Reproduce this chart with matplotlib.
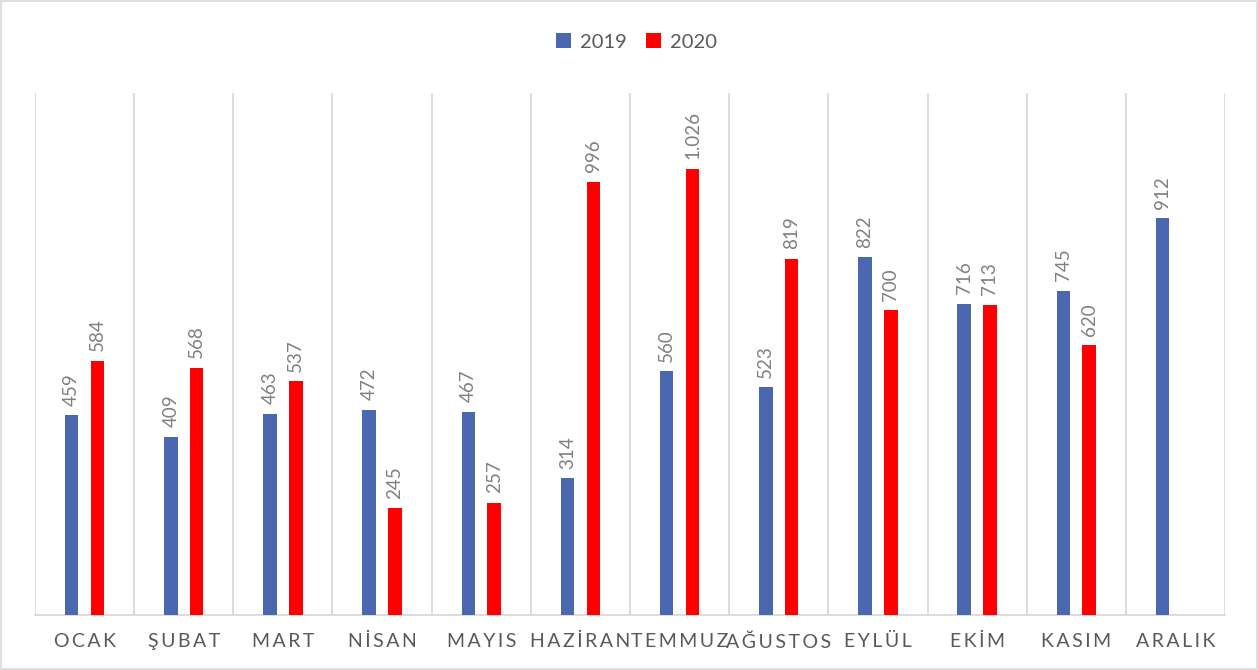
import numpy as np
import matplotlib
matplotlib.use("Agg")
import matplotlib.pyplot as plt

# --- data ---
months = ["OCAK", "ŞUBAT", "MART", "NİSAN", "MAYIS", "HAZİRAN",
          "TEMMUZ", "AĞUSTOS", "EYLÜL", "EKİM", "KASIM", "ARALIK"]
values_2019 = [459, 409, 463, 472, 467, 314, 560, 523, 822, 716, 745, 912]
values_2020 = [584, 568, 537, 245, 257, 996, 1026, 819, 700, 713, 620, np.nan]

plt.rcParams["font.family"] = ["Lato", "DejaVu Sans"]

blue = "#4A67B0"
red = "#FF0000"
grid_col = "#D9D9D9"
label_col = "#808080"
text_col = "#595959"


def fmt(v):
    # Turkish style thousand separator
    return f"{int(v):,}".replace(",", ".")


def spaced(s):
    # wide letter spacing like the original axis labels
    return "\u2009".join(s)


fig = plt.figure(figsize=(12.58, 6.70), dpi=100)
ax = fig.add_axes([35 / 1258, 1 - 615 / 670, 1190 / 1258, 522 / 670])

x = np.arange(len(months))
w = 0.135
off = 0.13
b1 = ax.bar(x - off, values_2019, w, color=blue, label="2019", zorder=3)
b2 = ax.bar(x + off, values_2020, w, color=red, label="2020", zorder=3)

for bars, vals in [(b1, values_2019), (b2, values_2020)]:
    for rect, v in zip(bars, vals):
        if np.isnan(v):
            continue
        ax.annotate(fmt(v), (rect.get_x() + rect.get_width() / 2, v),
                    xytext=(0, 7), textcoords="offset points",
                    rotation=90, ha="center", va="bottom",
                    fontsize=13.5, color=label_col)

ax.set_xlim(-0.5, len(months) - 0.5)
ax.set_ylim(0, 1200)
ax.set_yticks([])
ax.set_xticks(x)
ax.set_xticklabels([spaced(m) for m in months], fontsize=14, color=text_col)
ax.tick_params(axis="x", length=0, pad=13)

ax.set_xticks(np.arange(-0.5, len(months), 1), minor=True)
ax.tick_params(axis="x", which="minor", length=0)
ax.grid(axis="x", which="minor", color=grid_col, linewidth=1.3, zorder=0)

for side in ["top", "left", "right"]:
    ax.spines[side].set_visible(False)
ax.spines["bottom"].set_color(grid_col)
ax.spines["bottom"].set_linewidth(1.3)

leg = fig.legend(loc="center", bbox_to_anchor=(0.506, 1 - 42 / 670), ncol=2,
                 frameon=False, fontsize=14.5, handlelength=0.7, handleheight=0.7,
                 handletextpad=0.45, columnspacing=1.0)
for t in leg.get_texts():
    t.set_color(text_col)

# light border around the figure
fig.patches.append(plt.Rectangle((0.0008, 0.0015), 0.9984, 0.997, transform=fig.transFigure,
                                 fill=False, edgecolor=grid_col, linewidth=1.2))

plt.savefig("out.png", dpi=100, facecolor="white")
